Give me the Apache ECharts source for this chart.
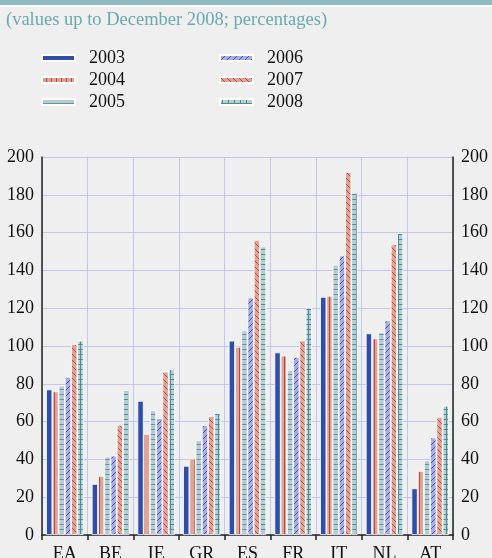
<!DOCTYPE html>
<html><head><meta charset="utf-8">
<script src="https://cdn.jsdelivr.net/npm/echarts@6/dist/echarts.min.js"></script>
<style>html,body{margin:0;padding:0;background:#efefef;}#c{width:492px;height:558px;}</style>
</head><body><div id="c"></div>
<script>
const categories = ['EA','BE','IE','GR','ES','FR','IT','NL','AT'];
const years = ['2003','2004','2005','2006','2007','2008'];
const v2003 = [77, 27, 71, 36.6, 102.8, 96.6, 126, 106.7, 24.7];
const v2004 = [76, 31.3, 53.5, 40.5, 99.6, 94.9, 126.6, 104, 33.9];
const v2005 = [79, 41.5, 66, 50.3, 108.3, 87.3, 143.1, 107.3, 39.6];
const v2006 = [83.7, 42, 61.8, 58.1, 125.7, 94.2, 147.9, 113.6, 51.6];
const v2007 = [101, 58.3, 86.4, 62.9, 156.1, 103, 192, 153.8, 62.5];
const v2008 = [102.8, 76.7, 87.8, 64.5, 152.7, 120.3, 181.1, 159.8, 68.4];
const yTicks = [0,20,40,60,80,100,120,140,160,180,200];
const values = [v2003, v2004, v2005, v2006, v2007, v2008];

function pat(w, h, bg, fg, draw) {
  const c = document.createElement('canvas');
  c.width = w; c.height = h;
  const g = c.getContext('2d');
  g.fillStyle = bg; g.fillRect(0, 0, w, h);
  g.fillStyle = fg;
  draw(g, w, h);
  return { image: c, repeat: 'repeat' };
}
function diag(g, n, up) {
  for (let i = 0; i < n; i++) g.fillRect(up ? n - 1 - i : i, i, 1, 1);
}
const fills = [
  '#2f4ea8',
  pat(5, 4, '#dca597', '#c0453a', (g) => { g.fillRect(4, 0, 1, 4); }),
  pat(4, 5, '#b8cbd0', '#5d97a3', (g) => { g.fillRect(0, 4, 4, 1); }),
  pat(6, 6, '#a7addf', '#4050b4', (g) => diag(g, 6, true)),
  pat(6, 6, '#dca597', '#c0453a', (g) => diag(g, 6, false)),
  pat(6, 5, '#b6cdd2', '#4b8c98', (g) => { g.fillRect(0, 4, 6, 1); g.fillRect(2, 0, 1, 5); })
];

const font = "'Liberation Serif', 'Times New Roman', serif";
const chart = echarts.init(document.getElementById('c'));
const yAxisCommon = {
  type: 'value', min: 0, max: 200, interval: 20,
  axisLine: { show: true, lineStyle: { color: '#222', width: 1.5 } },
  axisTick: { show: false },
  axisLabel: { color: '#111', fontFamily: font, fontSize: 18, margin: 8 },
  splitLine: { show: true, lineStyle: { color: '#c3c6ec', width: 1 } }
};
const legendCommon = {
  orient: 'vertical', top: 49, itemWidth: 33, itemHeight: 6, itemGap: 4, icon: 'rect', padding: 0,
  textStyle: { fontFamily: font, fontSize: 18, color: '#111', padding: [0, 0, 0, 9] }
};
chart.setOption({
  backgroundColor: '#efefef',
  animation: false,
  graphic: [
    { type: 'rect', left: 0, top: 0, shape: { width: 492, height: 5 }, style: { fill: '#8fbcc4' } },
    { type: 'rect', left: 0, top: 5, shape: { width: 492, height: 2 }, style: { fill: '#ffffff' } }
  ],
  title: {
    text: '(values up to December 2008; percentages)',
    left: 1, top: 6,
    textStyle: { color: '#6aa9af', fontFamily: font, fontSize: 18.5, fontWeight: 'normal' }
  },
  legend: [
    Object.assign({ data: years.slice(0, 3), left: 41 }, legendCommon),
    Object.assign({ data: years.slice(3), left: 219 }, legendCommon)
  ],
  grid: { left: 42, right: 39, top: 157, bottom: 23, containLabel: false, outerBoundsMode: 'none' },
  xAxis: {
    type: 'category', data: categories,
    axisLine: { show: true, lineStyle: { color: '#222', width: 1.5 } },
    axisTick: { show: true, length: 5, lineStyle: { color: '#222', width: 1.5 } },
    axisLabel: { color: '#111', fontFamily: font, fontSize: 18, margin: 10 },
    splitLine: { show: true, lineStyle: { color: '#c3c6ec', width: 1 } }
  },
  yAxis: [
    Object.assign({}, yAxisCommon, { position: 'left' }),
    Object.assign({}, yAxisCommon, { position: 'right', splitLine: { show: false } })
  ],
  series: years.map((y, i) => ({
    name: y, type: 'bar', data: values[i],
    barGap: '0%', barCategoryGap: '18%',
    itemStyle: { color: fills[i], borderColor: '#ffffff', borderWidth: 0.8 }
  }))
});
</script></body></html>
